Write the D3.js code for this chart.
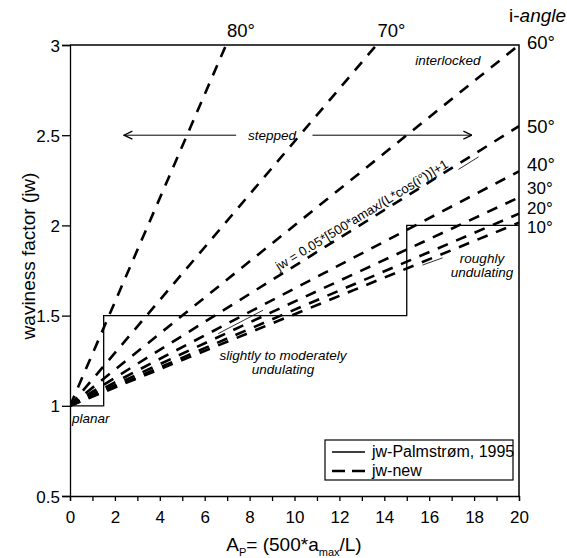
<!DOCTYPE html>
<html>
<head>
<meta charset="utf-8">
<script src="https://cdn.jsdelivr.net/npm/d3@7"></script>
<style>
  body { margin: 0; background: #fff; }
  text { font-family: Arial, "Liberation Sans", sans-serif; fill: #000; }
</style>
</head>
<body>
<svg id="chart" width="567" height="558"></svg>
<script>
// i-angle lines, all starting at (0, 1); end point
let angles = [80, 70, 60, 50, 40, 30, 20, 10];
let endX = [6.95, 13.65, 20, 20, 20, 20, 20, 20];
let endY = [3, 3, 3, 2.55, 2.3, 2.155, 2.065, 2.015];

// Palmstrøm (1995) step line
let stepX = [0, 1.5, 1.5, 15, 15, 20];
let stepY = [1, 1, 1.5, 1.5, 2, 2];

let xTicks = d3.range(0, 21, 2);
let xMinor = d3.range(0, 21, 1);
let yTicks = [0.5, 1, 1.5, 2, 2.5, 3];

let svg = d3.select("#chart");
let x = d3.scaleLinear().domain([0, 20]).range([70, 519]);
let y = d3.scaleLinear().domain([0.5, 3]).range([496, 45]);

svg.append("clipPath").attr("id", "plot")
    .append("rect").attr("x", 70).attr("y", 45).attr("width", 449).attr("height", 451);

// axes
let xAxis = svg.append("g").attr("transform", "translate(0," + y(0.5) + ")")
    .call(d3.axisBottom(x).tickValues(xMinor).tickSize(5).tickFormat(d => d % 2 == 0 ? d : ""));
let yAxis = svg.append("g").attr("transform", "translate(" + x(0) + ",0)")
    .call(d3.axisLeft(y).tickValues(yTicks).tickSize(8).tickFormat(d3.format("")));
[xAxis, yAxis].forEach(a => {
    a.select(".domain").attr("stroke", "#000").attr("stroke-width", 1.3);
    a.selectAll(".tick line").attr("stroke", "#000").attr("stroke-width", 1.3);
    a.selectAll(".tick text").style("font-size", "17px").attr("fill", "#000");
});
xAxis.selectAll(".tick text").attr("dy", "1.1em");
yAxis.selectAll(".tick text").attr("x", -10).attr("dy", "0.36em");

// frame top / right
svg.append("path")
    .attr("d", "M" + x(0) + "," + y(3) + "H" + x(20) + "V" + y(0.5))
    .attr("fill", "none").attr("stroke", "#000").attr("stroke-width", 1.5);

let line = d3.line().x(d => x(d[0])).y(d => y(d[1]));

// jw-new dashed lines
let lines = svg.append("g").attr("clip-path", "url(#plot)");
angles.forEach((a, i) => {
    lines.append("path")
        .attr("d", line([[0, 1], [endX[i], endY[i]]]))
        .attr("fill", "none").attr("stroke", "#000")
        .attr("stroke-width", 2.6).attr("stroke-dasharray", "11,9");
});

// Palmstrøm step
svg.append("path")
    .attr("d", line(stepX.map((d, i) => [d, stepY[i]])))
    .attr("fill", "none").attr("stroke", "#000").attr("stroke-width", 1.3);

// angle labels
let angleLab = svg.append("g").style("font-size", "18.5px");
angles.forEach((a, i) => {
    if (endY[i] == 3 && endX[i] < 20) {
        angleLab.append("text").attr("x", x(endX[i]) + 1).attr("y", 37).text(a + "°");
    }
});
let rightLabY = [49, 133, 171, 194, 213.5, 233];
angles.slice(2).forEach((a, i) => {
    angleLab.append("text").attr("x", 527).attr("y", rightLabY[i])
        .style("font-size", i > 2 ? "17px" : null).text(a + "°");
});
let il = angleLab.append("text").attr("x", 509).attr("y", 22).style("font-size", "19px");
il.append("tspan").text("i-");
il.append("tspan").style("font-style", "italic").text("angle");

// annotations
let note = svg.append("g").style("font-size", "13.5px").style("font-style", "italic");
note.append("text").attr("x", 448).attr("y", 65).attr("text-anchor", "middle").text("interlocked");
note.append("text").attr("x", 272).attr("y", 140).attr("text-anchor", "middle").text("stepped");
note.append("text").attr("x", 283).attr("y", 360).attr("text-anchor", "middle").text("slightly to moderately");
note.append("text").attr("x", 283).attr("y", 374).attr("text-anchor", "middle").text("undulating");
note.append("text").attr("x", 482).attr("y", 263).attr("text-anchor", "middle").text("roughly");
note.append("text").attr("x", 482).attr("y", 277).attr("text-anchor", "middle").text("undulating");
note.append("text").attr("x", 72).attr("y", 423).text("planar");

svg.append("text")
    .attr("transform", "translate(279,271) rotate(-31.5)")
    .style("font-size", "13px")
    .text("jw = 0.05*[500*amax/(L*cos(i°))]+1");

// arrows for "stepped"
svg.append("defs").append("marker")
    .attr("id", "arr").attr("viewBox", "0 0 10 10").attr("refX", 9.5).attr("refY", 5)
    .attr("markerWidth", 10).attr("markerHeight", 10).attr("markerUnits", "userSpaceOnUse")
    .attr("orient", "auto")
    .append("path").attr("d", "M1,1L9.5,5L1,9").attr("fill", "none").attr("stroke", "#000").attr("stroke-width", 1.3);
svg.append("line").attr("x1", x(7.4)).attr("x2", x(2.4)).attr("y1", y(2.5)).attr("y2", y(2.5))
    .attr("stroke", "#000").attr("stroke-width", 1).attr("marker-end", "url(#arr)");
svg.append("line").attr("x1", x(10.8)).attr("x2", x(17.9)).attr("y1", y(2.5)).attr("y2", y(2.5))
    .attr("stroke", "#000").attr("stroke-width", 1).attr("marker-end", "url(#arr)");

// thin leader lines
let leaders = [[[6.6, 1.4], [8.6, 1.53]], [[15.7, 1.78], [16.6, 1.82]], [[17.3, 2.31], [18.2, 2.38]]];
leaders.forEach(l => {
    svg.append("path").attr("d", line(l)).attr("stroke", "#000").attr("stroke-width", 0.8);
});

// axis titles
svg.append("text")
    .attr("transform", "translate(35,256) rotate(-90)")
    .attr("text-anchor", "middle").style("font-size", "19px")
    .text("waviness factor (jw)");

let xt = svg.append("text").attr("x", 294).attr("y", 551).attr("text-anchor", "middle").style("font-size", "19px");
xt.append("tspan").text("A");
xt.append("tspan").attr("dy", 5).style("font-size", "11px").text("P");
xt.append("tspan").attr("dy", -5).text("= (500*a");
xt.append("tspan").attr("dy", 5).style("font-size", "11px").text("max");
xt.append("tspan").attr("dy", -5).text("/L)");

// legend
let lg = svg.append("g");
lg.append("rect").attr("x", 325).attr("y", 440).attr("width", 188).attr("height", 40)
    .attr("fill", "#fff").attr("stroke", "#000").attr("stroke-width", 1.2);
lg.append("line").attr("x1", 332).attr("x2", 365).attr("y1", 452).attr("y2", 452)
    .attr("stroke", "#000").attr("stroke-width", 1.3);
lg.append("line").attr("x1", 332).attr("x2", 365).attr("y1", 471).attr("y2", 471)
    .attr("stroke", "#000").attr("stroke-width", 2.6).attr("stroke-dasharray", "13,7");
lg.append("text").attr("x", 372).attr("y", 457).style("font-size", "16px").text("jw-Palmstrøm, 1995");
lg.append("text").attr("x", 372).attr("y", 476).style("font-size", "16px").text("jw-new");
</script>
</body>
</html>
